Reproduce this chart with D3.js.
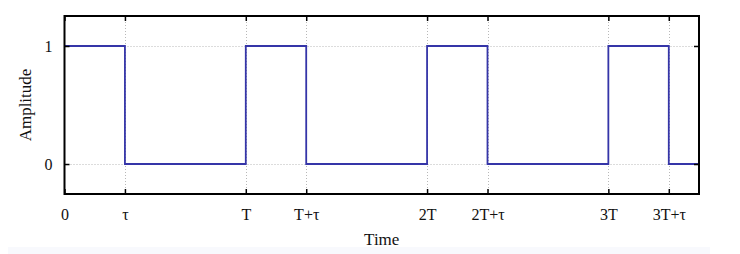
<!DOCTYPE html>
<html>
<head>
<meta charset="utf-8">
<script src="https://cdn.jsdelivr.net/npm/d3@7"></script>
<style>
  body { margin: 0; background: #fff; }
  svg { display: block; }
  svg text { font-family: "Liberation Serif", "DejaVu Serif", serif; }
</style>
</head>
<body>
<div class="chart"></div>
<script>
// ---------------------------------- DATA
// time in units of T, tau = T/3
var tau = 1 / 3;
var tickValues = [0, tau, 1, 1 + tau, 2, 2 + tau, 3, 3 + tau];
var tickLabels = ["0", "\u03c4", "T", "T+\u03c4", "2T", "2T+\u03c4", "3T", "3T+\u03c4"];
var yTicks = [0, 1];
// square wave corner points (step after)
var times = [0, tau, 1, 1 + tau, 2, 2 + tau, 3, 3 + tau, 3.5];
var levels = [1, 0, 1, 0, 1, 0, 1, 0, 0];

var width = 740, height = 254;
var margin = {left: 64.5, right: 41, top: 16, bottom: 60};

var svg = d3.select(".chart").append("svg")
  .attr("width", width)
  .attr("height", height);

// faint band at the very bottom of the picture
svg.append("rect")
  .attr("x", 8).attr("y", 247)
  .attr("width", 702).attr("height", 7)
  .attr("fill", "#f8f9fd");

var x = d3.scaleLinear()
  .domain([0, 3.5])
  .range([margin.left, width - margin.right]);

var y = d3.scaleLinear()
  .domain([-0.254, 1.254])
  .range([height - margin.bottom, margin.top]);

var x0 = x.range()[0], x1 = x.range()[1];
var y0 = y.range()[0], y1 = y.range()[1];

// ---------------------------------- GRID
var grid = svg.append("g")
  .attr("stroke", "#b8b8b8")
  .attr("stroke-width", 1)
  .attr("stroke-dasharray", "1,2");

grid.selectAll("line.vx")
  .data(tickValues.slice(1))
  .enter().append("line")
  .attr("class", "vx")
  .attr("x1", function(d){ return Math.round(x(d)) + 0.5; })
  .attr("x2", function(d){ return Math.round(x(d)) + 0.5; })
  .attr("y1", y1)
  .attr("y2", y0);

grid.selectAll("line.hy")
  .data(yTicks)
  .enter().append("line")
  .attr("class", "hy")
  .attr("x1", x0)
  .attr("x2", x1)
  .attr("y1", function(d){ return Math.round(y(d)) + 0.5; })
  .attr("y2", function(d){ return Math.round(y(d)) + 0.5; });

// ---------------------------------- SIGNAL
var data = times.map(function(t, i){ return {t: t, v: levels[i]}; });

var line = d3.line()
  .x(function(d){ return x(d.t); })
  .y(function(d){ return y(d.v); })
  .curve(d3.curveStepAfter);

svg.append("path")
  .attr("fill", "none")
  .attr("stroke", "#3535a8")
  .attr("stroke-width", 1.8)
  .attr("d", line(data));

// ---------------------------------- AXES
var xAxis = d3.axisBottom(x)
  .tickValues(tickValues)
  .tickFormat(function(d, i){ return tickLabels[i]; })
  .tickSizeInner(-5)
  .tickSizeOuter(0)
  .tickPadding(12);

var gx = svg.append("g")
  .attr("transform", "translate(0," + y0 + ")")
  .call(xAxis);
gx.attr("font-family", null);
gx.select(".domain").remove();
gx.selectAll("text").attr("font-size", 16).attr("fill", "#111").attr("dy", "0.9em");
gx.selectAll("line").attr("stroke", "#000").attr("stroke-width", 1.5);

var xTop = d3.axisTop(x).tickValues(tickValues).tickSizeInner(-5).tickSizeOuter(0).tickFormat("");
var gxt = svg.append("g").attr("transform", "translate(0," + y1 + ")").call(xTop);
gxt.select(".domain").remove();
gxt.selectAll("line").attr("stroke", "#000").attr("stroke-width", 1.5);

var yAxis = d3.axisLeft(y)
  .tickValues(yTicks)
  .tickFormat(d3.format("d"))
  .tickSizeInner(-5)
  .tickSizeOuter(0)
  .tickPadding(12);

var gy = svg.append("g")
  .attr("transform", "translate(" + x0 + ",0)")
  .call(yAxis);
gy.attr("font-family", null);
gy.select(".domain").remove();
gy.selectAll("text").attr("font-size", 16).attr("fill", "#111");
gy.selectAll("line").attr("stroke", "#000").attr("stroke-width", 1.5);

var yRight = d3.axisRight(y).tickValues(yTicks).tickSizeInner(-5).tickSizeOuter(0).tickFormat("");
var gyr = svg.append("g").attr("transform", "translate(" + x1 + ",0)").call(yRight);
gyr.select(".domain").remove();
gyr.selectAll("line").attr("stroke", "#000").attr("stroke-width", 1.5);

// frame
svg.append("rect")
  .attr("x", x0).attr("y", y1)
  .attr("width", x1 - x0).attr("height", y0 - y1)
  .attr("fill", "none")
  .attr("stroke", "#000")
  .attr("stroke-width", 2);

// ---------------------------------- LABELS
svg.append("text")
  .attr("x", (x0 + x1) / 2)
  .attr("y", 245)
  .attr("text-anchor", "middle")
  .attr("font-size", 17)
  .attr("fill", "#111")
  .text("Time");

svg.append("text")
  .attr("transform", "translate(31," + ((y0 + y1) / 2) + ") rotate(-90)")
  .attr("text-anchor", "middle")
  .attr("font-size", 17)
  .attr("fill", "#111")
  .text("Amplitude");
</script>
</body>
</html>
